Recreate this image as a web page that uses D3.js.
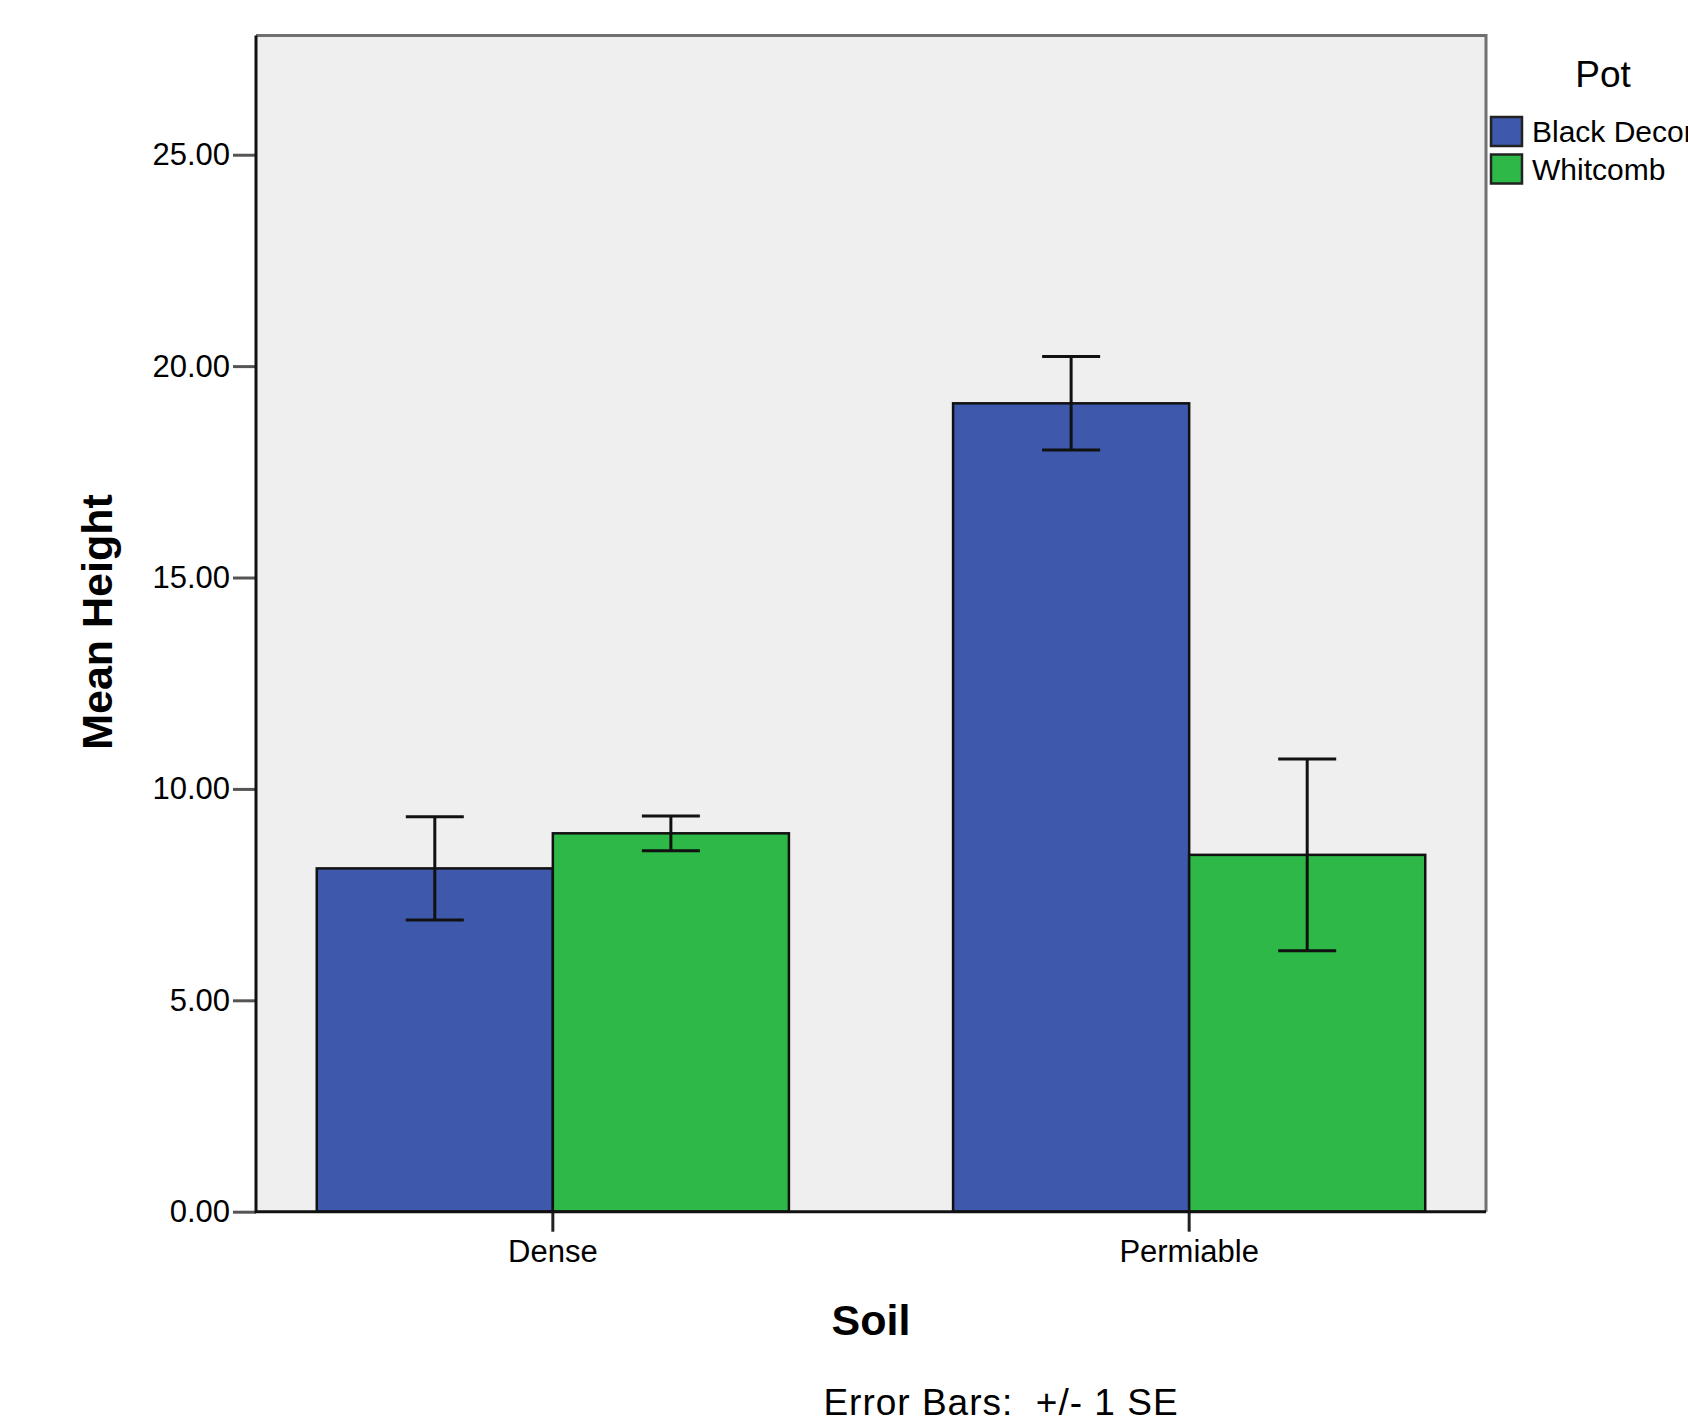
<!DOCTYPE html>
<html>
<head>
<meta charset="utf-8">
<script src="https://cdn.jsdelivr.net/npm/d3@7"></script>
<style>
  body { margin: 0; background: #fff; }
  text { font-family: "Liberation Sans", Arial, sans-serif; fill: #000; }
</style>
</head>
<body>
<div id="chart"></div>
<script>
// data
const soils = ['Dense', 'Permiable'];
const pots = ['Black Decorative', 'Whitcomb'];
const blackMeans = [8.12, 19.12];
const blackSE = [1.22, 1.105];
const whitcombMeans = [8.95, 8.44];
const whitcombSE = [0.41, 2.27];
const yTicks = [0, 5, 10, 15, 20, 25];
const potColors = ['#3e58ac', '#2eb848'];

const width = 1688, height = 1425;
const plot = { left: 256, right: 1486, top: 35.5, bottom: 1211.7 };

const svg = d3.select('#chart').append('svg')
  .attr('width', width)
  .attr('height', height);

// build rows for the bars
const rows = [];
soils.forEach((soil, i) => {
  rows.push({ soil, pot: pots[0], mean: blackMeans[i], se: blackSE[i] });
  rows.push({ soil, pot: pots[1], mean: whitcombMeans[i], se: whitcombSE[i] });
});

const x = d3.scaleBand()
  .domain(soils)
  .range([plot.left, plot.right])
  .paddingInner(0.258)
  .paddingOuter(0.0955);

const xPot = d3.scaleBand()
  .domain(pots)
  .range([0, x.bandwidth()]);

const y = d3.scaleLinear()
  .domain([0, 27.82])
  .range([plot.bottom, plot.top]);

const color = d3.scaleOrdinal().domain(pots).range(potColors);

// plot background
svg.append('rect')
  .attr('x', plot.left)
  .attr('y', plot.top)
  .attr('width', plot.right - plot.left)
  .attr('height', plot.bottom - plot.top)
  .attr('fill', '#efefef');

// top and right frame
svg.append('path')
  .attr('d', `M${plot.left},${plot.top}H${plot.right}V${plot.bottom}`)
  .attr('fill', 'none')
  .attr('stroke', '#707070')
  .attr('stroke-width', 3);

// bars
svg.append('g')
  .selectAll('rect')
  .data(rows)
  .enter()
  .append('rect')
  .attr('x', d => x(d.soil) + xPot(d.pot))
  .attr('y', d => y(d.mean))
  .attr('width', xPot.bandwidth())
  .attr('height', d => y(0) - y(d.mean))
  .attr('fill', d => color(d.pot))
  .attr('stroke', '#111')
  .attr('stroke-width', 2.5);

// error bars
const capHalf = 29;
const err = svg.append('g')
  .selectAll('g')
  .data(rows)
  .enter()
  .append('g')
  .attr('stroke', '#111')
  .attr('stroke-width', 3);

err.append('line')
  .attr('x1', d => x(d.soil) + xPot(d.pot) + xPot.bandwidth() / 2)
  .attr('x2', d => x(d.soil) + xPot(d.pot) + xPot.bandwidth() / 2)
  .attr('y1', d => y(d.mean + d.se))
  .attr('y2', d => y(d.mean - d.se));

err.append('line')
  .attr('x1', d => x(d.soil) + xPot(d.pot) + xPot.bandwidth() / 2 - capHalf)
  .attr('x2', d => x(d.soil) + xPot(d.pot) + xPot.bandwidth() / 2 + capHalf)
  .attr('y1', d => y(d.mean + d.se))
  .attr('y2', d => y(d.mean + d.se));

err.append('line')
  .attr('x1', d => x(d.soil) + xPot(d.pot) + xPot.bandwidth() / 2 - capHalf)
  .attr('x2', d => x(d.soil) + xPot(d.pot) + xPot.bandwidth() / 2 + capHalf)
  .attr('y1', d => y(d.mean - d.se))
  .attr('y2', d => y(d.mean - d.se));

// y axis
const yAxis = svg.append('g')
  .attr('transform', `translate(${plot.left},0)`)
  .call(d3.axisLeft(y).tickValues(yTicks).tickFormat(d3.format('.2f')).tickSize(23).tickPadding(3));
yAxis.select('.domain').remove();
yAxis.selectAll('.tick line').attr('stroke', '#555').attr('stroke-width', 3);
yAxis.selectAll('.tick text')
  .attr('font-size', 31)
  .attr('font-family', '"Liberation Sans", Arial, sans-serif')
  .attr('fill', '#000');

// x axis
const xAxis = svg.append('g')
  .attr('transform', `translate(0,${plot.bottom})`)
  .call(d3.axisBottom(x).tickSize(20).tickPadding(8));
xAxis.select('.domain').remove();
xAxis.selectAll('.tick line').attr('stroke', '#222').attr('stroke-width', 3);
xAxis.selectAll('.tick text')
  .attr('font-size', 31)
  .attr('font-family', '"Liberation Sans", Arial, sans-serif')
  .attr('fill', '#000');

// left and bottom axis lines
svg.append('path')
  .attr('d', `M${plot.left},${plot.top}V${plot.bottom}H${plot.right}`)
  .attr('fill', 'none')
  .attr('stroke', '#111')
  .attr('stroke-width', 3);

// axis titles
svg.append('text')
  .attr('transform', `translate(112,622) rotate(-90)`)
  .attr('text-anchor', 'middle')
  .attr('font-size', 43)
  .attr('font-weight', 'bold')
  .text('Mean Height');

svg.append('text')
  .attr('x', (plot.left + plot.right) / 2)
  .attr('y', 1335)
  .attr('text-anchor', 'middle')
  .attr('font-size', 43)
  .attr('font-weight', 'bold')
  .text('Soil');

svg.append('text')
  .attr('x', 1001)
  .attr('y', 1415)
  .attr('text-anchor', 'middle')
  .attr('font-size', 37)
  .attr('letter-spacing', 1)
  .style('white-space', 'pre')
  .text('Error Bars:  +/- 1 SE');

// legend
svg.append('text')
  .attr('x', 1603)
  .attr('y', 87)
  .attr('text-anchor', 'middle')
  .attr('font-size', 37)
  .text('Pot');

const legend = svg.append('g')
  .selectAll('g')
  .data(pots)
  .enter()
  .append('g')
  .attr('transform', (d, i) => `translate(1491,${117 + i * 37.5})`);

legend.append('rect')
  .attr('width', 31)
  .attr('height', 29)
  .attr('fill', d => color(d))
  .attr('stroke', '#222')
  .attr('stroke-width', 2.5);

legend.append('text')
  .attr('x', 41)
  .attr('y', 25)
  .attr('font-size', 30)
  .text(d => d);
</script>
</body>
</html>
